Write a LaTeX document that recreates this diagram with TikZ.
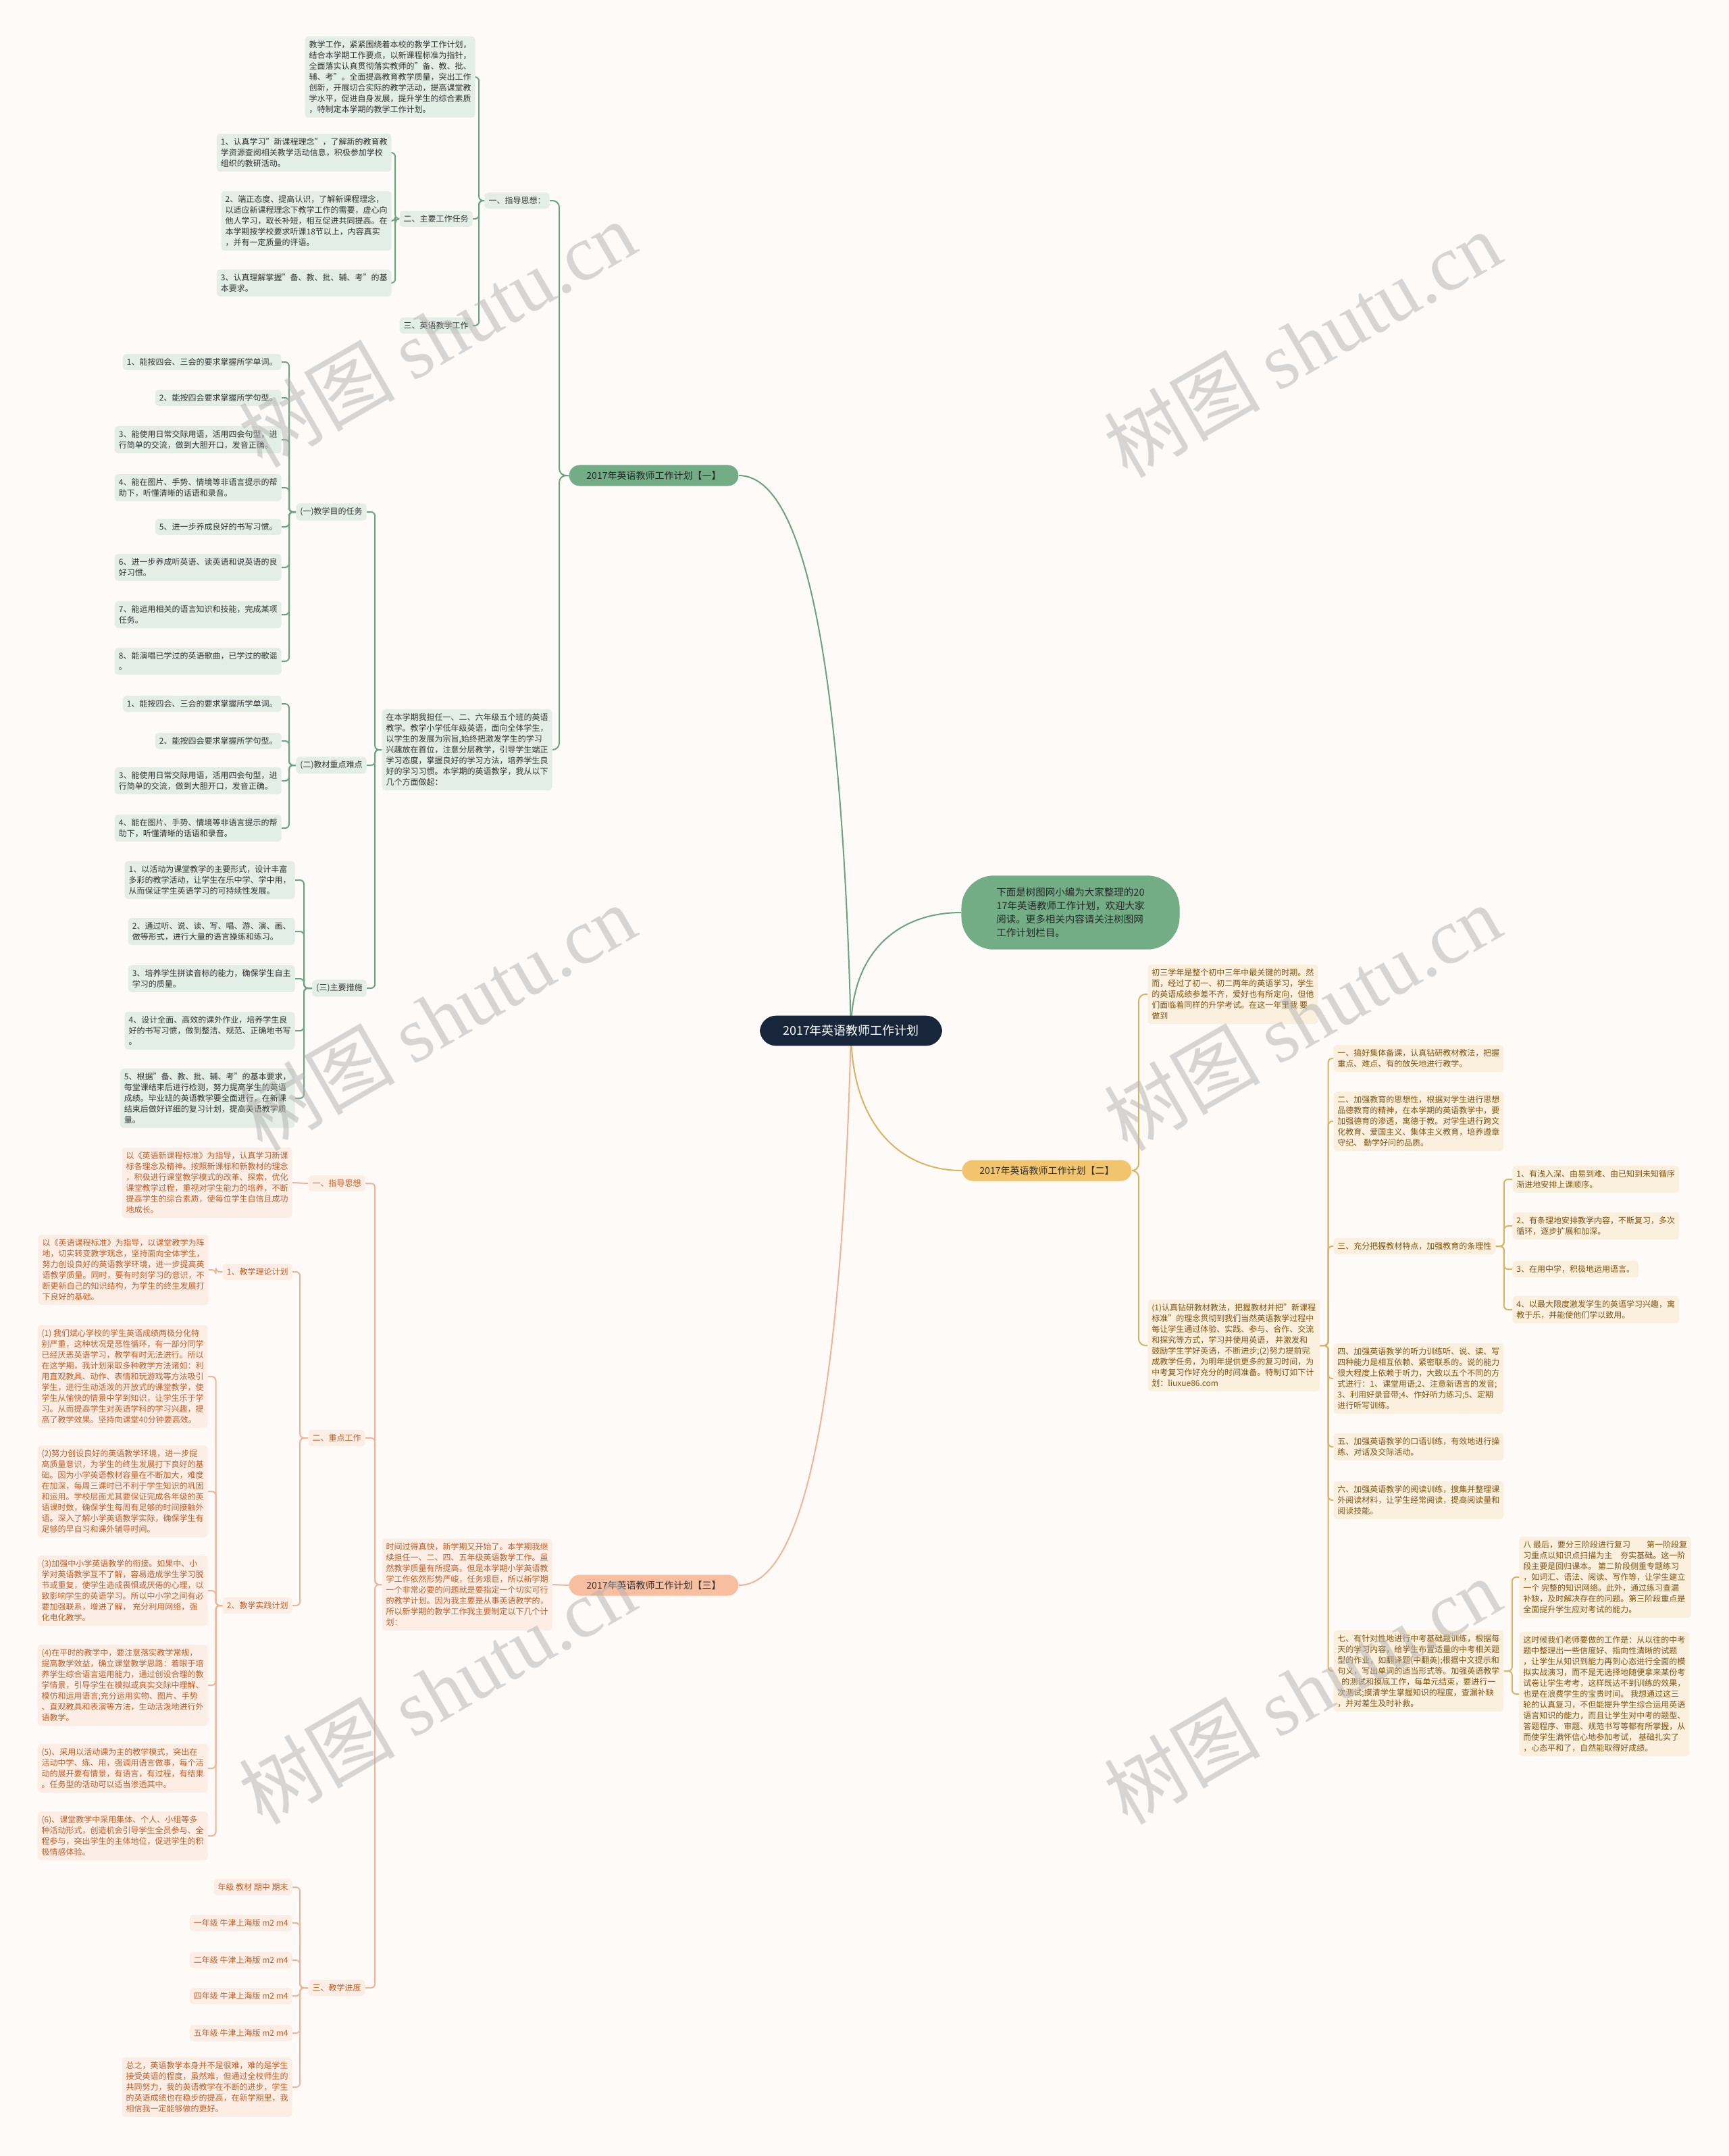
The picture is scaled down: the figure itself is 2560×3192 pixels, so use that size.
\documentclass[tikz,border=0pt]{standalone}
\usepackage{fontspec}
\setmainfont{Noto Sans CJK SC}
\newfontfamily\wmfont{Liberation Serif}
\usetikzlibrary{backgrounds}
\definecolor{PageBg}{HTML}{FDFAF8}
\definecolor{NavyMain}{HTML}{17263B}
\definecolor{GreenNode}{HTML}{72AD86}
\definecolor{GreenLeaf}{HTML}{E3EEE6}
\definecolor{GreenLine}{HTML}{6AA37F}
\definecolor{GreenText}{HTML}{333333}
\definecolor{GoldNode}{HTML}{F3C46E}
\definecolor{GoldLeaf}{HTML}{FBF0DD}
\definecolor{GoldLine}{HTML}{DDB35F}
\definecolor{GoldText}{HTML}{7F5410}
\definecolor{SalmonNode}{HTML}{F7BEA0}
\definecolor{SalmonLeaf}{HTML}{FCEEE5}
\definecolor{SalmonLine}{HTML}{F0B597}
\definecolor{SalmonText}{HTML}{C25E28}
\newcommand\leaffont{\fontsize{6pt}{8pt}\selectfont}
\tikzset{
  % boxes
  leaf/.style={rounded corners=2.5pt,inner xsep=3pt,inner ysep=3.2pt,align=left,font=\leaffont},
  leaf green/.style={leaf,fill=GreenLeaf,text=GreenText},
  leaf gold/.style={leaf,fill=GoldLeaf,text=GoldText},
  leaf salmon/.style={leaf,fill=SalmonLeaf,text=SalmonText},
  branch/.style={rounded corners=8pt,inner xsep=13pt,inner ysep=4.5pt,font=\fontsize{7pt}{9pt}\selectfont},
  branch green/.style={branch,fill=GreenNode,text=black!85},
  branch gold/.style={branch,fill=GoldNode,text=black!80},
  branch salmon/.style={branch,fill=SalmonNode,text=black!80},
  root/.style={fill=NavyMain,text=white,rounded corners=12pt,inner xsep=17pt,inner ysep=7pt,font=\fontsize{9pt}{11pt}\selectfont},
  intro/.style={fill=GreenNode,text=black!85,rounded corners=24pt,inner xsep=26pt,inner ysep=9pt,align=left,font=\fontsize{7.25pt}{10pt}\selectfont},
  % links
  link green/.style={draw=GreenLine,line width=1pt,rounded corners=3pt},
  link gold/.style={draw=GoldLine,line width=1pt,rounded corners=3pt},
  link salmon/.style={draw=SalmonLine,line width=1pt,rounded corners=3pt},
  watermark/.style={rotate=30,text=gray!60,opacity=0.5,font=\fontsize{58pt}{66pt}\selectfont}
}
\begin{document}
\begin{tikzpicture}[x=0.5pt,y=0.5pt]
\useasboundingbox (0,0) rectangle (2560,-3192);

% centre
\node[root] (root) at (1260,-1526) {2017年英语教师工作计划};
\node[intro] (intro) at (1585,-1351) {下面是树图网小编为大家整理的20\\17年英语教师工作计划，欢迎大家\\阅读。更多相关内容请关注树图网\\工作计划栏目。};

% branch one
\node[branch green] (b1) at (968,-704) {2017年英语教师工作计划【一】};
\node[leaf green,anchor=east] (zd) at (814,-297) {一、指导思想：};
\node[leaf green,anchor=east] (zdtxt) at (704,-114) {教学工作，紧紧围绕着本校的教学工作计划，\\结合本学期工作要点，以新课程标准为指针，\\全面落实认真贯彻落实教师的"备、教、批、\\辅、考"。全面提高教育教学质量，突出工作\\创新，开展切合实际的教学活动，提高课堂教\\学水平，促进自身发展，提升学生的综合素质\\，特制定本学期的教学工作计划。};
\node[leaf green,anchor=east] (rw) at (700,-324) {二、主要工作任务};
\node[leaf green,anchor=east] (yy) at (700,-482) {三、英语教学工作};
\node[leaf green,anchor=east] (rw1) at (580,-226) {1、认真学习"新课程理念"，了解新的教育教\\学资源查阅相关教学活动信息，积极参加学校\\组织的教研活动。};
\node[leaf green,anchor=east] (rw2) at (580,-327) {2、端正态度、提高认识，了解新课程理念，\\以适应新课程理念下教学工作的需要，虚心向\\他人学习，取长补短，相互促进共同提高。在\\本学期按学校要求听课18节以上，内容真实\\，并有一定质量的评语。};
\node[leaf green,anchor=east] (rw3) at (580,-419) {3、认真理解掌握"备、教、批、辅、考"的基\\本要求。};

\node[leaf green,anchor=east] (p1) at (818,-1110) {在本学期我担任一、二、六年级五个班的英语\\教学。教学小学低年级英语，面向全体学生，\\以学生的发展为宗旨,始终把激发学生的学习\\兴趣放在首位，注意分层教学，引导学生端正\\学习态度，掌握良好的学习方法，培养学生良\\好的学习习惯。本学期的英语教学，我从以下\\几个方面做起：};
\node[leaf green,anchor=east] (ta) at (543,-758) {(一)教学目的任务};
\node[leaf green,anchor=east] (tb) at (543,-1133) {(二)教材重点难点};
\node[leaf green,anchor=east] (tc) at (543,-1463) {(三)主要措施};

\node[leaf green,anchor=east] (ta1) at (417,-536) {1、能按四会、三会的要求掌握所学单词。};
\node[leaf green,anchor=east] (ta2) at (417,-589) {2、能按四会要求掌握所学句型。};
\node[leaf green,anchor=east] (ta3) at (417,-651) {3、能使用日常交际用语，活用四会句型，进\\行简单的交流，做到大胆开口，发音正确。};
\node[leaf green,anchor=east] (ta4) at (417,-722) {4、能在图片、手势、情境等非语言提示的帮\\助下，听懂清晰的话语和录音。};
\node[leaf green,anchor=east] (ta5) at (417,-780) {5、进一步养成良好的书写习惯。};
\node[leaf green,anchor=east] (ta6) at (417,-840) {6、进一步养成听英语、读英语和说英语的良\\好习惯。};
\node[leaf green,anchor=east] (ta7) at (417,-910) {7、能运用相关的语言知识和技能，完成某项\\任务。};
\node[leaf green,anchor=east] (ta8) at (417,-979) {8、能演唱已学过的英语歌曲，已学过的歌谣\\。};

\node[leaf green,anchor=east] (tb1) at (417,-1042) {1、能按四会、三会的要求掌握所学单词。};
\node[leaf green,anchor=east] (tb2) at (417,-1097) {2、能按四会要求掌握所学句型。};
\node[leaf green,anchor=east] (tb3) at (417,-1156) {3、能使用日常交际用语，活用四会句型，进\\行简单的交流，做到大胆开口，发音正确。};
\node[leaf green,anchor=east] (tb4) at (417,-1226) {4、能在图片、手势、情境等非语言提示的帮\\助下，听懂清晰的话语和录音。};

\node[leaf green,anchor=east] (tc1) at (437,-1303) {1、以活动为课堂教学的主要形式，设计丰富\\多彩的教学活动，让学生在乐中学、学中用，\\从而保证学生英语学习的可持续性发展。};
\node[leaf green,anchor=east] (tc2) at (437,-1379) {2、通过听、说、读、写、唱、游、演、画、\\做等形式，进行大量的语言操练和练习。};
\node[leaf green,anchor=east] (tc3) at (437,-1449) {3、培养学生拼读音标的能力，确保学生自主\\学习的质量。};
\node[leaf green,anchor=east] (tc4) at (437,-1526) {4、设计全面、高效的课外作业，培养学生良\\好的书写习惯，做到整洁、规范、正确地书写\\。};
\node[leaf green,anchor=east] (tc5) at (437,-1626) {5、根据"备、教、批、辅、考"的基本要求，\\每堂课结束后进行检测，努力提高学生的英语\\成绩。毕业班的英语教学要全面进行，在新课\\结束后做好详细的复习计划，提高英语教学质\\量。};

% branch two
\node[branch gold] (b2) at (1550,-1733) {2017年英语教师工作计划【二】};
\node[leaf gold,anchor=west] (q1) at (1699,-1472) {初三学年是整个初中三年中最关键的时期。然\\而，经过了初一、初二两年的英语学习，学生\\的英语成绩参差不齐，爱好也有所定向，但他\\们面临着同样的升学考试。在这一年里我 要\\做到};
\node[leaf gold,anchor=west] (q2) at (1699,-1992) {(1)认真钻研教材教法，把握教材并把"新课程\\标准"的理念贯彻到我们当然英语教学过程中\\每让学生通过体验、实践、参与、合作、交流\\和探究等方式，学习并使用英语， 并激发和\\鼓励学生学好英语，不断进步;(2)努力提前完\\成教学任务，为明年提供更多的复习时间，为\\中考复习作好充分的时间准备。特制订如下计\\划：liuxue86.com};
\node[leaf gold,anchor=west] (s1) at (1974,-1567) {一、搞好集体备课，认真钻研教材教法，把握\\重点、难点、有的放矢地进行教学。};
\node[leaf gold,anchor=west] (s2) at (1974,-1660) {二、加强教育的思想性，根据对学生进行思想\\品德教育的精神，在本学期的英语教学中，要\\加强德育的渗透，寓德于教。对学生进行跨文\\化教育、爱国主义、集体主义教育，培养遵章\\守纪、 勤学好问的品质。};
\node[leaf gold,anchor=west] (s3) at (1974,-1845) {三、充分把握教材特点，加强教育的条理性};
\node[leaf gold,anchor=west] (s4) at (1974,-2041) {四、加强英语教学的听力训练听、说、读、写\\四种能力是相互依赖、紧密联系的。说的能力\\很大程度上依赖于听力，大致以五个不同的方\\式进行：1、课堂用语;2、注意新语言的发音;\\3、利用好录音带;4、作好听力练习;5、定期\\进行听写训练。};
\node[leaf gold,anchor=west] (s5) at (1974,-2142) {五、加强英语教学的口语训练，有效地进行操\\练、对话及交际活动。};
\node[leaf gold,anchor=west] (s6) at (1974,-2221) {六、加强英语教学的阅读训练，搜集并整理课\\外阅读材料，让学生经常阅读，提高阅读量和\\阅读技能。};
\node[leaf gold,anchor=west] (s7) at (1974,-2474) {七、有针对性地进行中考基础题训练，根据每\\天的学习内容，给学生布置适量的中考相关题\\型的作业，如翻译题(中翻英);根据中文提示和\\句义，写出单词的适当形式等。加强英语教学\\\hspace*{3pt}的测试和摸底工作，每单元结束，要进行一\\次测试;摸清学生掌握知识的程度，查漏补缺\\，并对差生及时补救。};
\node[leaf gold,anchor=west] (s31) at (2239,-1746) {1、有浅入深、由易到难、由已知到未知循序\\渐进地安排上课顺序。};
\node[leaf gold,anchor=west] (s32) at (2239,-1815) {2、有条理地安排教学内容，不断复习，多次\\循环，逐步扩展和加深。};
\node[leaf gold,anchor=west] (s33) at (2239,-1879) {3、在用中学，积极地运用语言。};
\node[leaf gold,anchor=west] (s34) at (2239,-1939) {4、以最大限度激发学生的英语学习兴趣，寓\\教于乐，并能使他们学以致用。};
\node[leaf gold,anchor=west] (s71) at (2249,-2335) {八 最后，要分三阶段进行复习　　第一阶段复\\习重点以知识点扫描为主　夯实基础。这一阶\\段主要是回归课本。 第二阶段侧重专题练习\\，如词汇、语法、阅读、写作等，让学生建立\\一个 完整的知识网络。此外，通过练习查漏\\补缺，及时解决存在的问题。第三阶段重点是\\全面提升学生应对考试的能力。};
\node[leaf gold,anchor=west] (s72) at (2249,-2508) {这时候我们老师要做的工作是：从以往的中考\\题中整理出一些信度好、指向性清晰的试题\\，让学生从知识到能力再到心态进行全面的模\\拟实战演习，而不是无选择地随便拿来某份考\\试卷让学生考考，这样既达不到训练的效果，\\也是在浪费学生的宝贵时间。 我想通过这三\\轮的认真复习，不但能提升学生综合运用英语\\语言知识的能力，而且让学生对中考的题型、\\答题程序、审题、规范书写等都有所掌握，从\\而使学生满怀信心地参加考试， 基础扎实了\\，心态平和了，自然能取得好成绩。};

% branch three
\node[branch salmon] (b3) at (968,-2347) {2017年英语教师工作计划【三】};
\node[leaf salmon,anchor=east] (p3) at (818,-2346) {时间过得真快，新学期又开始了。本学期我继\\续担任一、二、四、五年级英语教学工作。虽\\然教学质量有所提高，但是本学期小学英语教\\学工作依然形势严峻，任务艰巨，所以新学期\\一个非常必要的问题就是要指定一个切实可行\\的教学计划。因为我主要是从事英语教学的，\\所以新学期的教学工作我主要制定以下几个计\\划：};
\node[leaf salmon,anchor=east] (h1) at (541,-1752) {一、指导思想};
\node[leaf salmon,anchor=east] (h1txt) at (433,-1751) {以《英语新课程标准》为指导，认真学习新课\\标各理念及精神。按照新课标和新教材的理念\\，积极进行课堂教学模式的改革、探索，优化\\课堂教学过程，重视对学生能力的培养，不断\\提高学生的综合素质，使每位学生自信且成功\\地成长。};
\node[leaf salmon,anchor=east] (h2) at (541,-2129) {二、重点工作};
\node[leaf salmon,anchor=east] (h2a) at (433,-1883) {1、教学理论计划};
\node[leaf salmon,anchor=east] (h2atxt) at (309,-1880) {以《英语课程标准》为指导，以课堂教学为阵\\地，切实转变教学观念，坚持面向全体学生，\\努力创设良好的英语教学环境，进一步提高英\\语教学质量。同时，要有时刻学习的意识，不\\断更新自己的知识结构，为学生的终生发展打\\下良好的基础。};
\node[leaf salmon,anchor=east] (h2b) at (433,-2377) {2、教学实践计划};
\node[leaf salmon,anchor=east] (pr1) at (308,-2038) {(1) 我们斌心学校的学生英语成绩两极分化特\\别严重，这种状况是恶性循环，有一部分同学\\已经厌恶英语学习，教学有时无法进行。所以\\在这学期，我计划采取多种教学方法诸如：利\\用直观教具、动作、表情和玩游戏等方法吸引\\学生，进行生动活泼的开放式的课堂教学，使\\学生从愉快的情景中学到知识，让学生乐于学\\习。从而提高学生对英语学科的学习兴趣，提\\高了教学效果。坚持向课堂40分钟要高效。};
\node[leaf salmon,anchor=east] (pr2) at (308,-2208) {(2)努力创设良好的英语教学环境，进一步提\\高质量意识，为学生的终生发展打下良好的基\\础。因为小学英语教材容量在不断加大，难度\\在加深，每周三课时已不利于学生知识的巩固\\和运用。学校层面尤其要保证完成各年级的英\\语课时数，确保学生每周有足够的时间接触外\\语。深入了解小学英语教学实际，确保学生有\\足够的早自习和课外辅导时间。};
\node[leaf salmon,anchor=east] (pr3) at (308,-2355) {(3)加强中小学英语教学的衔接。如果中、小\\学对英语教学互不了解，容易造成学生学习脱\\节或重复，使学生造成畏惧或厌倦的心理，以\\致影响学生的英语学习。所以中小学之间有必\\要加强联系，增进了解， 充分利用网络，强\\化电化教学。};
\node[leaf salmon,anchor=east] (pr4) at (308,-2495) {(4)在平时的教学中，要注意落实教学常规，\\提高教学效益，确立课堂教学思路：着眼于培\\养学生综合语言运用能力，通过创设合理的教\\学情景，引导学生在模拟或真实交际中理解、\\模仿和运用语言;充分运用实物、图片、手势\\、直观教具和表演等方法，生动活泼地进行外\\语教学。};
\node[leaf salmon,anchor=east] (pr5) at (308,-2618) {(5)、采用以活动课为主的教学模式，突出在\\活动中学、练、用，强调用语言做事，每个活\\动的展开要有情景，有语言，有过程，有结果\\。任务型的活动可以适当渗透其中。};
\node[leaf salmon,anchor=east] (pr6) at (308,-2718) {(6)、课堂教学中采用集体、个人、小组等多\\种活动形式，创造机会引导学生全员参与、全\\程参与，突出学生的主体地位，促进学生的积\\极情感体验。};
\node[leaf salmon,anchor=east] (h3) at (541,-2943) {三、教学进度};
\node[leaf salmon,anchor=east] (jd0) at (433,-2794) {年级 教材 期中 期末};
\node[leaf salmon,anchor=east] (jd1) at (433,-2847) {一年级 牛津上海版 m2 m4};
\node[leaf salmon,anchor=east] (jd2) at (433,-2902) {二年级 牛津上海版 m2 m4};
\node[leaf salmon,anchor=east] (jd3) at (433,-2955) {四年级 牛津上海版 m2 m4};
\node[leaf salmon,anchor=east] (jd4) at (433,-3010) {五年级 牛津上海版 m2 m4};
\node[leaf salmon,anchor=east] (jd5) at (433,-3090) {总之，英语教学本身并不是很难，难的是学生\\接受英语的程度，虽然难，但通过全校师生的\\共同努力，我的英语教学在不断的进步，学生\\的英语成绩也在稳步的提高，在新学期里，我\\相信我一定能够做的更好。};

\begin{scope}[on background layer]
  \fill[PageBg] (0,0) rectangle (2560,-3192);
  % centre to branches
  \draw[link green] (root.center) .. controls +(-10,400) and +(120,0) .. (b1.east);
  \draw[link green] (root.center) .. controls +(0,120) and +(-90,0) .. (intro.west);
  \draw[link gold] (root.center) .. controls +(0,-140) and +(-90,0) .. (b2.west);
  \draw[link salmon] (root.center) .. controls +(-10,-400) and +(120,0) .. (b3.east);
  % branch one
  \foreach \c in {zd,p1} \draw[link green,rounded corners=5pt] (b1.west) -- ++(-14,0) |- (\c.east);
  \foreach \c in {zdtxt,rw,yy} \draw[link green] (zd.west) -- ++(-8,0) |- (\c.east);
  \foreach \c in {rw1,rw2,rw3} \draw[link green] (rw.west) -- ++(-6,0) |- (\c.east);
  \foreach \c in {ta,tb,tc} \draw[link green] (p1.west) -- ++(-10,0) |- (\c.east);
  \foreach \k in {1,...,8} \draw[link green] (ta.west) -- ++(-10,0) |- (ta\k.east);
  \foreach \k in {1,...,4} \draw[link green] (tb.west) -- ++(-10,0) |- (tb\k.east);
  \foreach \k in {1,...,5} \draw[link green] (tc.west) -- ++(-12,0) |- (tc\k.east);
  % branch two
  \foreach \c in {q1,q2} \draw[link gold,rounded corners=5pt] (b2.east) -- ++(10,0) |- (\c.west);
  \foreach \k in {1,...,7} \draw[link gold] (q2.east) -- ++(12,0) |- (s\k.west);
  \foreach \k in {1,...,4} \draw[link gold] (s3.east) -- ++(12,0) |- (s3\k.west);
  \foreach \k in {1,2} \draw[link gold] (s7.east) -- ++(12,0) |- (s7\k.west);
  % branch three
  \draw[link salmon] (b3.west) -- (p3.east);
  \foreach \c in {h1,h2,h3} \draw[link salmon] (p3.west) -- ++(-10,0) |- (\c.east);
  \draw[link salmon] (h1.west) -- (h1txt.east);
  \foreach \c in {h2a,h2b} \draw[link salmon] (h2.west) -- ++(-12,0) |- (\c.east);
  \draw[link salmon] (h2a.west) -- ++(-10,0) |- (h2atxt.east);
  \foreach \k in {1,...,6} \draw[link salmon] (h2b.west) -- ++(-10,0) |- (pr\k.east);
  \foreach \k in {0,...,5} \draw[link salmon] (h3.west) -- ++(-12,0) |- (jd\k.east);
\end{scope}

% watermarks
\foreach \wx/\wy [count=\i] in {647/494,1928/509,647/1506,1928/1506,647/2503,1928/2503}
  \node[watermark] (wm\i) at (\wx,-\wy) {树图 {\wmfont shutu.cn}};
\end{tikzpicture}
\end{document}
